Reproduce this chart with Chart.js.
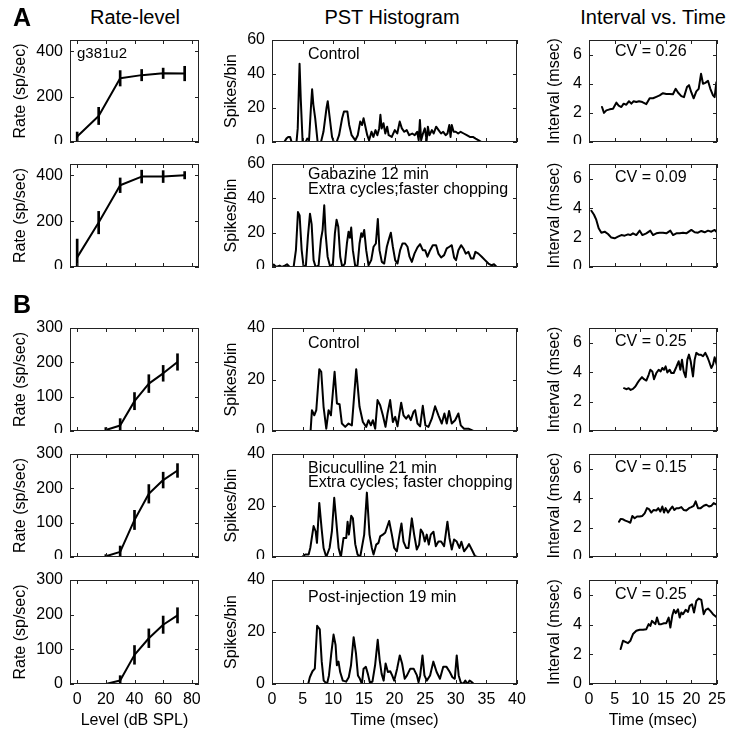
<!DOCTYPE html>
<html>
<head>
<meta charset="utf-8">
<script src="https://cdn.jsdelivr.net/npm/chart.js@4.4.0/dist/chart.umd.min.js"></script>
<style>
  body { margin: 0; background: #fff; }
  #fig { position: relative; width: 735px; height: 735px; overflow: hidden;
         font-family: "Liberation Sans", Arial, Helvetica, sans-serif; color: #000; }
  #fig canvas { position: absolute; }
  .note { position: absolute; white-space: nowrap; font-size: 16px; line-height: 16px; transform: translateY(-50%); }
  .head { position: absolute; white-space: nowrap; font-size: 20px; transform: translate(-50%, -50%); }
  .letter { position: absolute; font-size: 25px; font-weight: bold; transform: translate(-50%, -50%); }
</style>
</head>
<body>
<div id="fig"></div>
<script>
// ---- rate-level data (dB SPL, sp/sec, +/- error) ----
var levelsA = [0, 15, 30, 45, 60, 75];
var rateA1 = [24, 115, 281, 295, 303, 302];
var errA1 = [20, 38, 34, 25, 23, 32];
var rateA2 = [42, 194, 357, 395, 395, 401];
var errA2 = [80, 49, 32, 28, 26, 16];

var levelsB = [20, 30, 40, 50, 60, 70];
var rateB1 = [3, 16, 87, 138, 168, 201];
var errB1 = [7, 20, 25, 26, 23, 24];
var rateB2 = [2, 15, 108, 184, 224, 252];
var errB2 = [5, 17, 28, 27, 23, 20];
var rateB3 = [0, 10, 84, 132, 171, 198];
var errB3 = [2, 14, 27, 27, 25, 22];

// ---- PST histograms [msec, spikes/bin] ----
var pstA1 = [[0,0],[2.0,0],[2.35,2],[2.65,3],[2.95,3],[3.2,0],[4.0,0],[4.2,8],[4.5,46],[4.7,25],[5.0,0],[5.5,0],[5.75,2],[6.05,1],[6.35,20],[6.55,31],[6.75,22],[7.05,14],[7.45,0],[8.0,0],[8.4,6],[8.9,20],[9.1,24],[9.4,15],[9.8,3],[10.1,0],[10.55,0],[10.95,4],[11.45,14],[11.75,18],[12.3,18],[12.6,10],[13.0,4],[13.6,1],[14.0,4],[14.4,12],[14.7,10],[14.95,14],[15.25,9],[15.55,4],[15.85,1],[16.25,6],[16.55,3],[16.9,7],[17.2,4],[17.5,8],[17.7,16],[17.9,8],[18.2,11],[18.5,5],[18.8,9],[19.05,4],[19.55,3],[20.05,7],[20.45,5],[20.85,12],[21.2,8],[21.6,6],[22.0,7],[22.4,4],[22.9,5],[23.3,4],[23.7,6],[23.95,1],[24.15,13],[24.35,1],[24.65,5],[24.95,8],[25.25,1],[25.45,9],[25.7,4],[26.1,7],[26.4,5],[26.8,9],[27.2,7],[27.6,5],[27.95,6],[28.35,4],[28.65,5],[28.95,10],[29.15,3],[29.35,10],[29.65,6],[30.0,6],[30.4,5],[30.8,6],[31.3,5],[31.8,4],[32.3,3],[32.8,3],[33.25,2],[33.75,1],[34.2,0],[40,0]];
var pstA2 = [[0,1],[0.27,1.4],[0.7,0],[1.25,0.8],[1.63,0],[2.17,1],[2.45,1.6],[2.88,0],[3.53,0],[3.91,10],[4.24,32],[4.51,30],[4.84,10],[5.16,0],[5.54,1],[5.87,18],[6.2,31],[6.47,25],[6.79,4],[7.12,0],[7.61,1],[7.99,16],[8.26,21.5],[8.53,36],[8.75,19.6],[9.08,6],[9.51,0],[9.95,2],[10.27,19.6],[10.54,27.5],[10.82,23.5],[11.14,6],[11.47,0],[11.9,2],[12.23,13.7],[12.5,20.6],[12.72,17],[12.93,23],[13.2,9.8],[13.59,0.4],[13.97,1],[14.29,13.7],[14.57,19.6],[14.78,17.6],[15.05,21.6],[15.38,9.8],[15.76,1],[16.2,4],[16.58,11.8],[16.96,13.7],[17.28,28],[17.55,9.8],[17.93,3],[18.32,2],[18.75,11.8],[19.13,16.7],[19.4,20],[19.73,11.8],[20.11,4],[20.49,2],[20.92,9.8],[21.3,13.7],[21.74,13.7],[22.12,11.8],[22.45,6],[22.83,3],[23.26,7.8],[23.75,11.4],[24.18,13.3],[24.62,9.8],[25.0,9.8],[25.38,6],[25.82,9.8],[26.25,12.7],[26.79,12.7],[27.17,7.8],[27.61,5.5],[28.1,6.9],[28.53,10.8],[28.97,11.8],[29.35,12.7],[29.73,5.5],[30.05,4],[30.43,9.8],[30.87,12.7],[31.25,10.8],[31.63,7.8],[32.07,8.8],[32.5,4.9],[32.88,4.9],[33.21,8.8],[33.7,7.8],[34.24,6],[34.78,4],[35.33,2],[35.87,1],[36.25,1.6],[36.68,0],[40,0]];
var pstB1 = [[0,0],[6.3,0],[6.52,8.1],[6.9,6.1],[7.23,8.1],[7.72,24],[8.04,23],[8.42,9.4],[8.86,0.9],[9.24,8.1],[9.62,6.1],[10.22,23],[10.6,10.7],[11.03,10.4],[11.41,2.9],[11.96,1.6],[12.5,2.9],[13.04,2.2],[13.75,24],[14.29,9.4],[14.84,3.5],[15.38,1.6],[15.76,4.2],[16.14,2.2],[16.47,4.2],[16.85,0.9],[17.23,12],[17.66,10],[18.1,6.1],[18.53,1.6],[18.86,6.8],[19.29,12],[19.73,3.5],[20.11,5.5],[20.49,1.8],[21.09,11],[21.47,6.1],[21.9,4.8],[22.28,6.1],[22.66,4.2],[23.1,7.4],[23.37,8.1],[23.75,2.9],[24.18,1.8],[24.62,9.8],[25.05,2.2],[25.54,1.6],[26.09,4.8],[26.63,9.6],[27.17,6.1],[27.72,2.9],[28.15,6.8],[28.53,2.9],[28.91,7.8],[29.35,2.9],[29.89,4.2],[30.43,6.8],[30.82,2.2],[31.36,0.9],[32.07,0.9],[32.61,0.3],[32.88,0],[40,0]];
var pstB2 = [[0,0],[4.89,0],[5.43,1],[5.98,1],[6.25,3.5],[6.79,12],[7.12,10],[7.34,5.5],[7.72,21],[8.1,11],[8.42,3.5],[8.86,0],[9.4,3.5],[9.78,10],[10.16,23],[10.49,14],[10.87,3.5],[11.25,0],[11.68,7.4],[12.12,7.4],[12.34,13.7],[12.55,8.7],[12.93,16],[13.21,15],[13.59,5],[13.97,1],[14.4,0],[15.05,8.7],[15.49,25],[15.92,8.7],[16.3,3.5],[16.58,1],[17.01,4.8],[17.39,5.5],[17.66,8],[18.1,8.7],[18.48,9.4],[19.13,14],[19.57,8.7],[19.95,3.5],[20.38,2.2],[20.82,8.7],[21.14,13],[21.47,6],[21.9,3.5],[22.28,3.5],[22.83,15],[23.21,8.7],[23.64,2.9],[24.02,4.8],[24.29,10.7],[24.62,9.4],[24.95,6],[25.27,8.7],[25.6,4.8],[25.92,8.7],[26.36,9.8],[26.74,4.2],[27.17,6],[27.61,6],[28.1,4.2],[28.64,13.7],[28.97,7.4],[29.35,2.9],[29.73,6.8],[30.16,6],[30.6,3.5],[30.92,5.9],[31.36,2.2],[31.79,3.5],[32.17,5],[32.61,2.9],[33.15,0.3],[33.53,0],[40,0]];
var pstB3 = [[0,0],[5.91,0],[6.18,2.6],[6.61,4.9],[6.99,5.9],[7.37,22.4],[7.8,21],[8.12,8.6],[8.44,1.3],[8.98,0],[9.3,3.3],[9.68,11.8],[10.05,19],[10.38,15],[10.59,7.2],[10.86,8.6],[11.13,4.6],[11.56,1.3],[12.1,0.9],[12.53,2.6],[12.9,7.2],[13.33,18],[13.71,11.8],[14.03,3.3],[14.35,2],[14.68,0],[14.95,5.9],[15.32,6.6],[15.65,3.9],[15.97,0.7],[16.4,0.9],[16.83,7.2],[17.26,17],[17.58,9.2],[17.9,3.9],[18.23,1.3],[18.55,7.9],[18.92,4.6],[19.3,4.9],[19.62,3.3],[19.95,1.3],[20.43,5.9],[20.86,11],[21.24,7.9],[21.67,2],[22.04,3.3],[22.58,5.9],[23.12,5.9],[23.66,3.3],[23.92,0.7],[24.19,3.3],[24.57,11],[24.89,3.3],[25.27,1.3],[25.81,3.3],[26.34,8.6],[26.88,4.6],[27.42,2],[27.96,6.6],[28.49,6.6],[29.03,4.6],[29.46,2.6],[29.84,2],[30.16,11],[30.48,3.3],[30.81,0.7],[31.18,0],[31.56,1.3],[31.88,0],[32.26,1.3],[32.63,0.7],[32.96,0],[40,0]];

// ---- interval vs. time [msec, msec] ----
var isiA1 = [[2.54,2.4],[2.93,2.0],[3.39,2.17],[4.04,2.24],[4.69,2.28],[5.34,2.7],[5.79,2.5],[6.32,2.4],[6.77,2.63],[7.29,2.56],[7.81,2.8],[8.27,2.63],[8.72,2.8],[9.24,2.74],[9.77,2.8],[10.42,2.74],[11.2,2.6],[11.85,3.0],[12.5,3.0],[13.15,3.1],[13.8,3.2],[14.45,3.35],[15.1,3.3],[15.76,3.3],[16.4,3.28],[16.93,3.65],[17.38,3.4],[18.03,3.15],[18.55,3.08],[19.14,3.77],[19.53,3.9],[19.99,3.4],[20.44,3.0],[20.96,3.47],[21.42,3.65],[21.88,4.68],[22.27,4.0],[22.72,4.06],[23.24,4.2],[23.7,3.65],[24.22,3.2],[24.54,3.08],[24.87,4.1]];
var isiA2 = [[0.46,3.82],[0.98,3.55],[1.43,3.2],[1.89,2.63],[2.41,2.33],[3.06,2.4],[3.71,2.24],[4.36,2.0],[5.01,1.95],[5.66,2.06],[6.32,2.17],[6.97,2.13],[7.62,2.22],[8.07,2.17],[8.59,2.29],[9.24,2.17],[9.9,2.47],[10.42,2.17],[11.2,2.29],[11.98,2.47],[12.5,2.17],[13.15,2.29],[13.8,2.33],[14.45,2.33],[15.1,2.29],[15.89,2.47],[16.41,2.17],[17.06,2.29],[17.71,2.29],[18.36,2.33],[19.01,2.29],[19.99,2.52],[20.64,2.36],[21.29,2.33],[21.94,2.45],[22.59,2.36],[23.24,2.47],[23.89,2.4],[24.54,2.52],[25.0,2.36]];
var isiB1 = [[6.84,2.91],[7.29,2.84],[7.75,2.91],[8.14,2.79],[8.59,2.86],[9.05,3.02],[9.44,3.25],[9.9,3.48],[10.35,3.66],[10.74,3.52],[11.2,3.43],[11.65,3.82],[11.98,4.16],[12.37,4.05],[12.7,3.52],[13.15,3.94],[13.61,4.16],[14.0,4.05],[14.32,4.28],[14.65,4.16],[14.97,4.39],[15.3,3.98],[15.76,4.16],[16.08,3.94],[16.54,3.94],[17.06,4.35],[17.51,4.74],[17.84,4.16],[18.16,4.85],[18.49,4.05],[18.88,3.66],[19.21,4.85],[19.53,5.19],[19.86,4.74],[20.31,3.71],[20.64,4.85],[20.96,5.31],[21.42,5.19],[21.81,5.19],[22.27,5.08],[22.72,5.31],[23.11,5.03],[23.44,4.74],[23.89,4.28],[24.22,4.51],[24.54,5.01],[25.0,4.44]];
var isiB2 = [[5.86,2.4],[6.18,2.59],[6.64,2.56],[7.1,2.47],[7.62,2.4],[8.07,2.33],[8.46,2.79],[8.92,2.63],[9.38,2.75],[9.9,2.75],[10.42,2.79],[10.87,2.97],[11.33,3.32],[11.72,3.25],[12.17,3.02],[12.63,3.2],[13.15,3.16],[13.54,3.32],[13.93,3.09],[14.32,3.43],[14.65,3.02],[14.97,3.32],[15.43,3.02],[15.89,3.25],[16.28,3.43],[16.67,3.2],[17.06,3.32],[17.58,3.32],[18.03,3.39],[18.49,3.2],[19.01,3.16],[19.53,3.32],[19.99,3.39],[20.44,3.48],[20.83,3.78],[21.29,3.32],[21.81,3.32],[22.4,3.48],[22.92,3.55],[23.44,3.43],[23.89,3.48],[24.35,3.66],[25.0,3.55]];
var isiB3 = [[6.18,2.35],[6.64,2.91],[7.1,2.84],[7.62,2.75],[8.07,2.91],[8.59,3.36],[9.24,3.58],[9.9,3.65],[10.55,3.65],[11.2,3.69],[11.65,4.03],[11.98,3.91],[12.3,4.25],[12.63,4.14],[12.96,4.03],[13.28,4.47],[13.67,4.03],[14.13,4.03],[14.65,4.09],[15.1,4.09],[15.56,4.47],[15.89,3.8],[16.28,4.63],[16.6,4.99],[16.93,4.77],[17.38,5.03],[17.71,4.47],[18.03,4.81],[18.36,4.7],[18.88,4.99],[19.34,4.85],[19.66,5.26],[20.12,5.37],[20.51,4.81],[20.96,5.59],[21.42,5.75],[21.94,5.66],[22.4,4.7],[22.79,4.99],[23.24,5.08],[23.7,4.92],[24.22,4.7],[25.0,4.47]];

// ---- tick labels ----
var levelTicks = [0, 20, 40, 60, 80];
var pstTimeTicks = [0, 5, 10, 15, 20, 25, 30, 35, 40];
var isiTimeTicks = [0, 5, 10, 15, 20, 25];
var rateTicksA = [0, 200, 400];
var rateTicksB = [0, 100, 200, 300];
var pstTicksA = [0, 20, 40, 60];
var pstTicksB = [0, 20, 40];
var isiTicks = [0, 2, 4, 6];

Chart.defaults.font.family = '"Liberation Sans", Arial, Helvetica, sans-serif';
Chart.defaults.font.size = 16;
Chart.defaults.color = '#000';

var fig = document.getElementById('fig');

// plot boxes (px)
var cols = [
  { l: 70, w: 129, W: 63 },
  { l: 272, w: 245, W: 54 },
  { l: 589, w: 128, W: 48 }
];
var rows = [
  { t: 40, h: 102 },
  { t: 164, h: 103 },
  { t: 328, h: 103 },
  { t: 454, h: 103 },
  { t: 580, h: 104 }
];

// matlab style box with inward ticks
var boxPlugin = {
  id: 'matBox',
  afterDatasetsDraw: function(chart) {
    var a = chart.chartArea, ctx = chart.ctx;
    var xs = chart.scales.x, ys = chart.scales.y;
    ctx.save();
    ctx.strokeStyle = '#222';
    ctx.lineWidth = 1;
    ctx.strokeRect(a.left + 0.5, a.top + 0.5, a.right - a.left - 1, a.bottom - a.top - 1);
    ctx.beginPath();
    xs.ticks.forEach(function(t) {
      var px = Math.round(xs.getPixelForValue(t.value)) + 0.5;
      ctx.moveTo(px, a.bottom); ctx.lineTo(px, a.bottom - 4);
      ctx.moveTo(px, a.top); ctx.lineTo(px, a.top + 4);
    });
    ys.ticks.forEach(function(t) {
      var py = Math.round(ys.getPixelForValue(t.value)) + 0.5;
      ctx.moveTo(a.left, py); ctx.lineTo(a.left + 4, py);
      ctx.moveTo(a.right, py); ctx.lineTo(a.right - 4, py);
    });
    ctx.stroke();
    ctx.restore();
  }
};

function fixTicks(vals) {
  return function(s) { s.ticks = vals.map(function(v) { return { value: v }; }); };
}

function trace(pairs, w) {
  return {
    data: pairs.map(function(p) { return { x: p[0], y: p[1] }; }),
    borderColor: '#000', borderWidth: w, borderJoinStyle: 'round', borderCapStyle: 'round',
    pointRadius: 0, tension: 0, fill: false
  };
}

function rateSets(levels, rate, err) {
  return [
    {
      data: levels.map(function(l, i) { return { x: l, y: rate[i] }; }),
      borderColor: '#000', borderWidth: 2, borderJoinStyle: 'round',
      pointRadius: 0, tension: 0, fill: false
    },
    {
      type: 'bar',
      data: levels.map(function(l, i) { return { x: l, y: [rate[i] - err[i], rate[i] + err[i]] }; }),
      backgroundColor: '#000', borderWidth: 0, barThickness: 2
    }
  ];
}

function panel(ci, ri, cfg) {
  var col = cols[ci], row = rows[ri];
  var last = ri === rows.length - 1;
  var PT = 10, PR = 14, H = last ? 50 : 2;
  var c = document.createElement('canvas');
  c.width = col.W + col.w + PR;
  c.height = PT + row.h + H;
  c.style.left = (col.l - col.W) + 'px';
  c.style.top = (row.t - PT) + 'px';
  fig.appendChild(c);

  new Chart(c, {
    type: 'line',
    data: { datasets: cfg.datasets },
    options: {
      responsive: false,
      animation: false,
      events: [],
      layout: { padding: { top: PT, right: PR, left: 0, bottom: 0 } },
      plugins: { legend: { display: false }, tooltip: { enabled: false } },
      scales: {
        x: {
          type: 'linear', min: cfg.xMin, max: cfg.xMax, offset: false,
          grid: { display: false, drawTicks: false },
          border: { display: false },
          ticks: { display: last, padding: 6, maxRotation: 0, autoSkip: false },
          title: { display: last, text: cfg.xTitle },
          afterBuildTicks: fixTicks(cfg.xTicks),
          afterFit: function(s) {
            s.height = H;
            s.paddingLeft = s.paddingRight = s.paddingTop = s.paddingBottom = 0;
          }
        },
        y: {
          type: 'linear', min: 0, max: cfg.yMax,
          grid: { display: false, drawTicks: false },
          border: { display: false },
          ticks: { padding: 7, autoSkip: false },
          title: { display: true, text: cfg.yTitle },
          afterBuildTicks: fixTicks(cfg.yTicks),
          afterFit: function(s) {
            s.width = col.W;
            s.paddingLeft = s.paddingRight = s.paddingTop = s.paddingBottom = 0;
          }
        }
      }
    },
    plugins: [boxPlugin]
  });
}

// column 1: rate-level
var rateAll = [[levelsA, rateA1, errA1], [levelsA, rateA2, errA2],
               [levelsB, rateB1, errB1], [levelsB, rateB2, errB2], [levelsB, rateB3, errB3]];
rateAll.forEach(function(r, i) {
  panel(0, i, {
    datasets: rateSets(r[0], r[1], r[2]),
    xMin: -5, xMax: 85, xTicks: levelTicks, xTitle: 'Level (dB SPL)',
    yMax: i < 2 ? 450 : 300, yTicks: i < 2 ? rateTicksA : rateTicksB,
    yTitle: 'Rate (sp/sec)'
  });
});

// column 2: PST histograms
[pstA1, pstA2, pstB1, pstB2, pstB3].forEach(function(p, i) {
  panel(1, i, {
    datasets: [trace(p, 2)],
    xMin: 0, xMax: 40, xTicks: pstTimeTicks, xTitle: 'Time (msec)',
    yMax: i < 2 ? 60 : 40, yTicks: i < 2 ? pstTicksA : pstTicksB,
    yTitle: 'Spikes/bin'
  });
});

// column 3: interval vs. time
[isiA1, isiA2, isiB1, isiB2, isiB3].forEach(function(p, i) {
  panel(2, i, {
    datasets: [trace(p, 2)],
    xMin: 0, xMax: 25, xTicks: isiTimeTicks, xTitle: 'Time (msec)',
    yMax: 7, yTicks: isiTicks,
    yTitle: 'Interval (msec)'
  });
});

// text labels
function addText(cls, txt, x, y, extra) {
  var d = document.createElement('div');
  d.className = cls;
  d.textContent = txt;
  d.style.left = x + 'px';
  d.style.top = y + 'px';
  if (extra) d.style.fontSize = extra + 'px';
  fig.appendChild(d);
}

addText('letter', 'A', 22, 17);
addText('letter', 'B', 22, 304);
addText('head', 'Rate-level', 135, 17);
addText('head', 'PST Histogram', 392, 17);
addText('head', 'Interval vs. Time', 653, 17);

addText('note', 'g381u2', 77, 53, 15);
addText('note', 'Control', 308, 54);
addText('note', 'Gabazine 12 min', 308, 174);
addText('note', 'Extra cycles;faster chopping', 308, 189);
addText('note', 'CV = 0.26', 615, 51);
addText('note', 'CV = 0.09', 615, 177);
addText('note', 'Control', 308, 343);
addText('note', 'Bicuculline 21 min', 308, 468);
addText('note', 'Extra cycles; faster chopping', 308, 482);
addText('note', 'Post-injection 19 min', 308, 597);
addText('note', 'CV = 0.25', 615, 341);
addText('note', 'CV = 0.15', 615, 467);
addText('note', 'CV = 0.25', 615, 594);
</script>
</body>
</html>
